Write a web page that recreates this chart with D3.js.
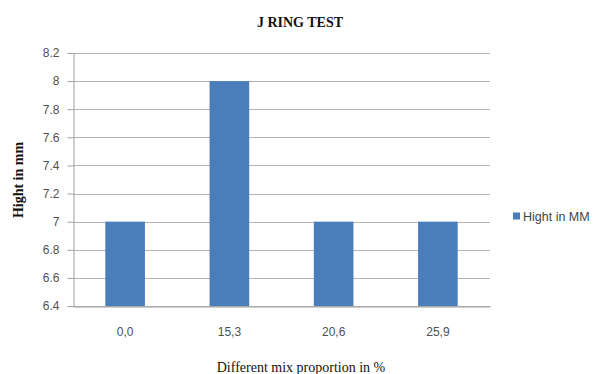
<!DOCTYPE html>
<meta charset="utf-8">
<style>
body { margin: 0; background: #fff; }
text { font-family: "Liberation Sans", "DejaVu Sans", sans-serif; }
.tick text { fill: #505050; font-size: 12px; }
.serif { font-family: "Liberation Serif", "DejaVu Serif", serif; fill: #111; }
</style>
<svg width="601" height="374" id="svg"></svg>
<script src="https://d3js.org/d3.v7.min.js"></script>
<script>

var categories = ["0,0", "15,3", "20,6", "25,9"];
var heights = [7, 8, 7, 7];
var yTicks = [6.4, 6.6, 6.8, 7, 7.2, 7.4, 7.6, 7.8, 8, 8.2];

var svg = d3.select("svg");

var margin = {left: 73, right: 490, top: 53, bottom: 306};

var x = d3.scaleBand()
    .domain(categories)
    .range([margin.left, margin.right])
    .paddingInner(0.62)
    .paddingOuter(0.31);

var y = d3.scaleLinear()
    .domain([6.4, 8.2])
    .range([margin.bottom, margin.top]);

// gridlines
svg.append("g")
  .selectAll("line")
  .data(yTicks)
  .enter().append("line")
    .attr("x1", margin.left)
    .attr("x2", margin.right)
    .attr("y1", function(d) { return Math.round(y(d)) + 0.5; })
    .attr("y2", function(d) { return Math.round(y(d)) + 0.5; })
    .attr("stroke", "#b4b4b4")
    .attr("stroke-width", 1);

// bars
svg.append("g")
  .selectAll("rect")
  .data(heights)
  .enter().append("rect")
    .attr("x", function(d, i) { return x(categories[i]); })
    .attr("y", function(d) { return y(d); })
    .attr("width", x.bandwidth())
    .attr("height", function(d) { return y(6.4) - y(d); })
    .attr("fill", "#4a7ebb");

// y axis
var yAxis = svg.append("g")
    .attr("transform", "translate(" + (margin.left + 0.5) + ",0)")
    .call(d3.axisLeft(y).tickValues(yTicks).tickSize(6).tickPadding(8)
      .tickFormat(function(d) { return d3.format("")(+d.toFixed(1)); }));
yAxis.selectAll("line, path").attr("stroke", "#a0a0a0");

// x axis
var xAxis = svg.append("g")
    .attr("transform", "translate(0," + (margin.bottom + 0.5) + ")")
    .call(d3.axisBottom(x).tickSize(0).tickPadding(21));
xAxis.select("path").attr("stroke", "#a0a0a0");

// title
svg.append("text")
    .attr("class", "serif")
    .attr("x", 300)
    .attr("y", 27)
    .attr("text-anchor", "middle")
    .style("font-weight", "bold")
    .style("font-size", "14px")
    .text("J RING TEST");

// axis titles
svg.append("text")
    .attr("class", "serif")
    .attr("transform", "translate(23,180) rotate(-90)")
    .attr("text-anchor", "middle")
    .style("font-weight", "bold")
    .style("font-size", "14px")
    .text("Hight in mm");

svg.append("text")
    .attr("class", "serif")
    .attr("x", 301)
    .attr("y", 372)
    .attr("text-anchor", "middle")
    .style("font-size", "14px")
    .text("Different mix proportion in %");

// legend
var legend = svg.append("g").attr("transform", "translate(513,216)");
legend.append("rect")
    .attr("x", 0).attr("y", -3.5)
    .attr("width", 7).attr("height", 7)
    .attr("fill", "#4a7ebb");
legend.append("text")
    .attr("x", 10).attr("y", 4.5)
    .style("font-size", "12.5px")
    .style("fill", "#444")
    .text("Hight in MM");

</script>
